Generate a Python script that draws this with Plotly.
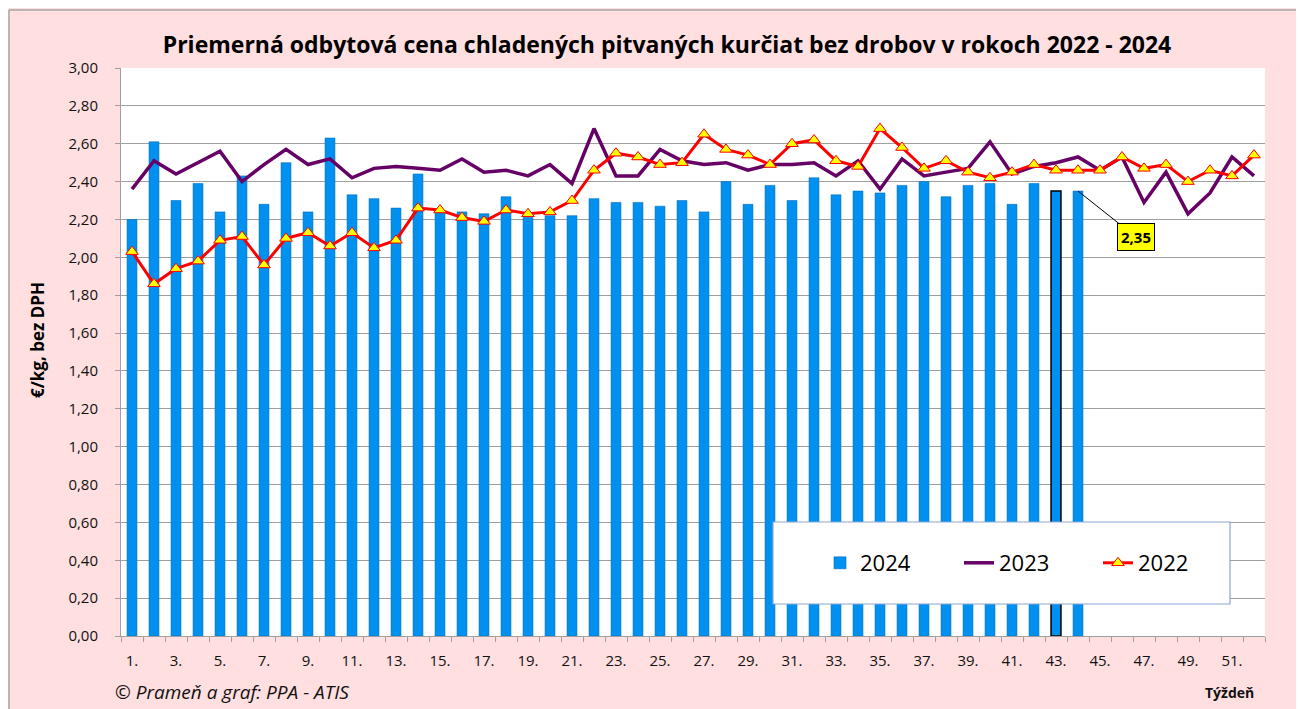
import plotly.graph_objects as go

# ---------------- data ----------------
weeks = list(range(1, 53))
week_labels = [f"{w}." for w in weeks]

values_2024 = [2.20, 2.61, 2.30, 2.39, 2.24, 2.43, 2.28, 2.50, 2.24, 2.63,
               2.33, 2.31, 2.26, 2.44, 2.24, 2.24, 2.23, 2.32, 2.21, 2.22,
               2.22, 2.31, 2.29, 2.29, 2.27, 2.30, 2.24, 2.40, 2.28, 2.38,
               2.30, 2.42, 2.33, 2.35, 2.34, 2.38, 2.40, 2.32, 2.38, 2.39,
               2.28, 2.39, 2.35, 2.35]

values_2023 = [2.36, 2.51, 2.44, 2.50, 2.56, 2.40, 2.49, 2.57, 2.49, 2.52,
               2.42, 2.47, 2.48, 2.47, 2.46, 2.52, 2.45, 2.46, 2.43, 2.49,
               2.39, 2.68, 2.43, 2.43, 2.57, 2.51, 2.49, 2.50, 2.46, 2.49,
               2.49, 2.50, 2.43, 2.51, 2.36, 2.52, 2.43, 2.45, 2.47, 2.61,
               2.44, 2.48, 2.50, 2.53, 2.46, 2.53, 2.29, 2.45, 2.23, 2.34,
               2.53, 2.43]

values_2022 = [2.03, 1.86, 1.94, 1.98, 2.09, 2.11, 1.96, 2.10, 2.13, 2.06,
               2.13, 2.05, 2.09, 2.26, 2.25, 2.21, 2.19, 2.25, 2.23, 2.24,
               2.30, 2.46, 2.55, 2.53, 2.49, 2.50, 2.65, 2.57, 2.54, 2.49,
               2.60, 2.62, 2.51, 2.48, 2.68, 2.58, 2.47, 2.51, 2.45, 2.42,
               2.45, 2.49, 2.46, 2.46, 2.46, 2.53, 2.47, 2.49, 2.40, 2.46,
               2.43, 2.54]

series_names = ["2024", "2023", "2022"]
highlight_week = 43
label_week = 44

title_text = "Priemerná odbytová cena chladených pitvaných kurčiat bez drobov v rokoch 2022 - 2024"
y_title = "€/kg, bez DPH"
x_title = "Týždeň"
source_text = "© Prameň a graf: PPA - ATIS"

# ---------------- figure ----------------
FONT = "'Open Sans', Lato, sans-serif"
OFF = 8                      # page body margin of the html page
W, H = 1304 - OFF, 709 - OFF
ML, MR, MT, MB = 113, 39, 60, 73
PW, PH = W - ML - MR, H - MT - MB


def px_x(p):
    """page pixel x -> paper coordinate"""
    return (p - OFF - ML) / PW


def px_y(p):
    """page pixel y -> paper coordinate"""
    return (H - MB - (p - OFF)) / PH


weeks_2024 = weeks[:len(values_2024)]
bar_line_colors = ["#000000" if w == highlight_week else "#0070C0" for w in weeks_2024]
bar_line_widths = [1.5 if w == highlight_week else 0.6 for w in weeks_2024]

fig = go.Figure()
fig.add_trace(go.Bar(
    x=weeks_2024, y=values_2024, name=series_names[0], width=0.45,
    marker=dict(color="#0090F0", line=dict(color=bar_line_colors, width=bar_line_widths)),
))
fig.add_trace(go.Scatter(
    x=weeks, y=values_2023, name=series_names[1], mode="lines",
    line=dict(color="#660066", width=3.5),
))
fig.add_trace(go.Scatter(
    x=weeks, y=values_2022, name=series_names[2], mode="lines+markers",
    line=dict(color="#FF0000", width=3),
    marker=dict(symbol="triangle-up", size=11, color="#FFFF00",
                line=dict(color="#FF0000", width=1)),
))

lbl_val = values_2024[weeks_2024.index(label_week)]

fig.update_layout(
    width=W, height=H,
    margin=dict(l=ML, r=MR, t=MT, b=MB, pad=0),
    paper_bgcolor="#FFDFDF",
    plot_bgcolor="#FFFFFF",
    separators=", ",
    font=dict(family=FONT, color="#111111", size=15),
    title=dict(text=f"<b>{title_text}</b>", x=(667 - OFF) / W, xanchor="center",
               y=1 - (45 - OFF) / H, yanchor="middle",
               font=dict(family=FONT, size=23, color="#000000")),
    xaxis=dict(range=[0.5, 52.5], tickmode="array", tickvals=weeks[::2],
               ticktext=week_labels[::2], showgrid=False, zeroline=False,
               showline=True, linecolor="#A0A0A0", linewidth=1,
               ticks="", ticklabelstandoff=11,
               minor=dict(tickmode="linear", tick0=0.5, dtick=1, ticks="outside",
                          ticklen=5, tickcolor="#A0A0A0", showgrid=False),
               tickfont=dict(size=15, color="#111111")),
    yaxis=dict(range=[0, 3.0], dtick=0.2, tick0=0, tickformat=".2f",
               showgrid=True, gridcolor="#A0A0A0", gridwidth=1, zeroline=False,
               showline=True, linecolor="#A0A0A0", linewidth=1,
               ticks="outside", ticklen=5, tickcolor="#A0A0A0",
               ticklabelstandoff=14,
               tickfont=dict(size=15, color="#111111")),
    legend=dict(orientation="h", x=px_x(820), xanchor="left",
                y=px_y(563), yanchor="middle", bgcolor="rgba(0,0,0,0)",
                borderwidth=0, font=dict(size=22, color="#000000"),
                entrywidth=94, entrywidthmode="pixels", traceorder="normal"),
    showlegend=True,
)

# grey frame line at top/left of the chart area
fig.add_shape(type="line", xref="paper", yref="paper", x0=px_x(9), x1=1.3,
              y0=px_y(10), y1=px_y(10), line=dict(color="#A6A6A6", width=1.5), layer="below")
fig.add_shape(type="line", xref="paper", yref="paper", x0=px_x(9), x1=px_x(9),
              y0=-0.4, y1=px_y(10), line=dict(color="#A6A6A6", width=1.5), layer="below")

# legend box
fig.add_shape(type="rect", xref="paper", yref="paper", x0=px_x(773), x1=px_x(1230),
              y0=px_y(604), y1=px_y(522), fillcolor="#FFFFFF",
              line=dict(color="#8DA6CF", width=1.2), layer="above")

# text annotations
fig.add_annotation(text=f"<b>{y_title}</b>", xref="paper", yref="paper",
                   x=px_x(37), y=px_y(340), xanchor="center", yanchor="middle",
                   textangle=-90, showarrow=False,
                   font=dict(size=17, color="#000000"))
fig.add_annotation(text=f"<i>{source_text}</i>", xref="paper", yref="paper",
                   x=px_x(113), y=px_y(692), xanchor="left", yanchor="middle",
                   showarrow=False, font=dict(size=19, color="#111111"))
fig.add_annotation(text=f"<b>{x_title}</b>", xref="paper", yref="paper",
                   x=px_x(1256), y=px_y(692), xanchor="right", yanchor="middle",
                   showarrow=False, font=dict(size=14, color="#111111"))

# data label
fig.add_annotation(x=label_week, y=lbl_val, xref="x", yref="y",
                   text=f"<b>{lbl_val:.2f}</b>".replace(".", ","),
                   showarrow=True, arrowhead=0, arrowwidth=1, arrowcolor="#000000",
                   ax=58, ay=46, bgcolor="#FFFF00", bordercolor="#000000",
                   borderwidth=1, borderpad=3, font=dict(size=15, color="#000000"))

fig.write_html("out.html")
